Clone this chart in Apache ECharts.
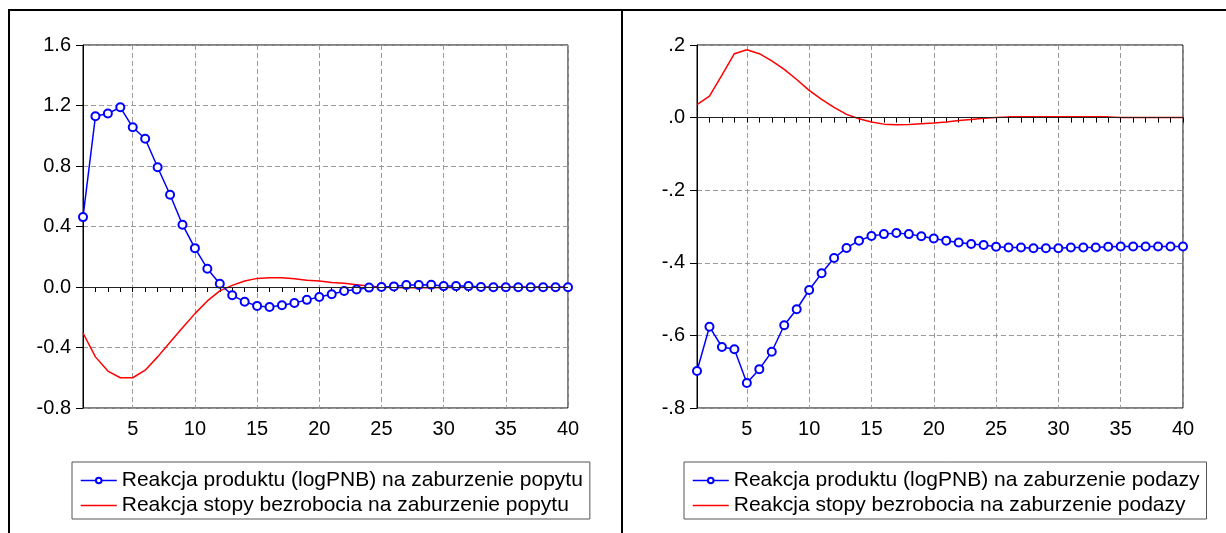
<!DOCTYPE html>
<html><head><meta charset="utf-8">
<script src="https://cdn.jsdelivr.net/npm/echarts@6/dist/echarts.min.js"></script>
<style>html,body{margin:0;padding:0;background:#fff}#c{width:1226px;height:533px}</style>
</head><body><div id="c"></div>
<script>
const periods = Array.from({length:40},(_,i)=>String(i+1));
const demandOutput = [0.462,1.129,1.147,1.188,1.056,0.98,0.792,0.61,0.412,0.257,0.121,0.022,-0.055,-0.097,-0.125,-0.132,-0.121,-0.106,-0.085,-0.066,-0.048,-0.026,-0.017,-0.004,0.0,0.004,0.013,0.013,0.015,0.006,0.006,0.006,0.0,-0.002,-0.002,-0.002,-0.002,-0.002,-0.002,-0.002];
const demandUnemp = [-0.304,-0.462,-0.556,-0.600,-0.600,-0.55,-0.462,-0.365,-0.27,-0.176,-0.092,-0.026,0.011,0.04,0.057,0.061,0.061,0.055,0.045,0.04,0.03,0.024,0.015,0.006,-0.002,-0.004,-0.005,-0.005,-0.005,-0.004,-0.003,-0.002,-0.001,0,0,0,0,0,0,0];
const supplyOutput = [-0.698,-0.576,-0.632,-0.638,-0.731,-0.693,-0.645,-0.572,-0.528,-0.475,-0.429,-0.387,-0.359,-0.339,-0.326,-0.321,-0.318,-0.321,-0.327,-0.333,-0.339,-0.344,-0.348,-0.351,-0.356,-0.358,-0.358,-0.36,-0.36,-0.36,-0.358,-0.358,-0.358,-0.356,-0.355,-0.355,-0.355,-0.355,-0.355,-0.355];
const supplyUnemp = [0.036,0.059,0.117,0.176,0.187,0.176,0.156,0.133,0.105,0.075,0.05,0.028,0.009,-0.003,-0.012,-0.018,-0.02,-0.019,-0.017,-0.015,-0.012,-0.008,-0.005,-0.002,0.0,0.002,0.002,0.002,0.002,0.002,0.002,0.002,0.002,0.002,0.0,0.0,0.0,0.0,0.0,0.0];
const names = {
  dOut: 'Reakcja produktu (logPNB) na zaburzenie popytu',
  dUn: 'Reakcja stopy bezrobocia na zaburzenie popytu',
  sOut: 'Reakcja produktu (logPNB) na zaburzenie podazy',
  sUn: 'Reakcja stopy bezrobocia na zaburzenie podazy'
};
const FONT = 'Liberation Sans, Arial, sans-serif';
const TFS = 20;
const LFS = 21;
const every5 = (i, v) => Number(v) % 5 === 0;
function xAxis(gi){
  return {type:'category', gridIndex:gi, data:periods, boundaryGap:false,
    axisLine:{lineStyle:{color:'#000',width:1}},
    axisTick:{show:true, interval:0, length:5, lineStyle:{color:'#000'}},
    axisLabel:{interval:every5, color:'#000', fontSize:TFS, fontFamily:FONT, margin:11},
    splitLine:{show:true, interval:every5, lineStyle:{color:'#9a9a9a', type:[5,3], width:1}}};
}
function yAxis(gi, min, max, step, fmt){
  return {type:'value', gridIndex:gi, min:min, max:max, interval:step,
    axisLine:{show:true, lineStyle:{color:'#000',width:1}},
    axisTick:{show:true, length:7, lineStyle:{color:'#000'}},
    axisLabel:{color:'#000', fontSize:TFS, fontFamily:FONT, margin:12, formatter:fmt},
    splitLine:{show:true, lineStyle:{color:'#9a9a9a', type:[5,3], width:1}}};
}
const fmtL = v => (Math.abs(v)<1e-9?0:v).toFixed(1);
const fmtR = v => (Math.abs(v)<1e-9?0:v).toFixed(1).replace(/^(-?)0\./,'$1.');
const zeroLine = {silent:true, symbol:'none', label:{show:false}, lineStyle:{color:'#222', type:'solid', width:1.2}, data:[{yAxis:0}]};
function outSeries(name, data, gi){
  return {name, type:'line', xAxisIndex:gi, yAxisIndex:gi, data,
    symbol:'emptyCircle', symbolSize:8, showAllSymbol:true,
    lineStyle:{color:'#0000ff', width:1.5}, itemStyle:{color:'#0000ff', borderWidth:1.5},
    animation:false, z:3};
}
function unSeries(name, data, gi){
  return {name, type:'line', xAxisIndex:gi, yAxisIndex:gi, data, symbol:'none',
    lineStyle:{color:'#ff0000', width:1.5}, itemStyle:{color:'#ff0000'},
    markLine:zeroLine, animation:false, z:2};
}
function legend(left, outName, unName){
  return {left:left, top:462, orient:'vertical',
    data:[{name:outName}, {name:unName, itemStyle:{opacity:0}}],
    borderColor:'#555', borderWidth:1, padding:[8,7,3,8], itemGap:4,
    itemWidth:36, itemHeight:7, itemTextGap:8,
    lineStyle:{width:1.5},
    textStyle:{color:'#000', fontSize:LFS, fontFamily:FONT, lineHeight:21}};
}
const chart = echarts.init(document.getElementById('c'), null, {renderer:'canvas'});
chart.setOption({
  animation:false,
  backgroundColor:'#fff',
  grid:[
    {left:83, top:45, width:485, height:363, show:true, borderColor:'#000', borderWidth:1},
    {left:697, top:45, width:486, height:363, show:true, borderColor:'#000', borderWidth:1}
  ],
  xAxis:[xAxis(0), xAxis(1)],
  yAxis:[yAxis(0,-0.8,1.6,0.4,fmtL), yAxis(1,-0.8,0.2,0.2,fmtR)],
  legend:[legend(72,names.dOut,names.dUn), legend(684,names.sOut,names.sUn)],
  series:[
    unSeries(names.dUn, demandUnemp, 0),
    outSeries(names.dOut, demandOutput, 0),
    unSeries(names.sUn, supplyUnemp, 1),
    outSeries(names.sOut, supplyOutput, 1)
  ],
  graphic:[
    {type:'line', shape:{x1:8,y1:10,x2:1226,y2:10}, style:{stroke:'#000', lineWidth:2}},
    {type:'line', shape:{x1:9,y1:10,x2:9,y2:533}, style:{stroke:'#000', lineWidth:2}},
    {type:'line', shape:{x1:622,y1:10,x2:622,y2:533}, style:{stroke:'#000', lineWidth:2}}
  ]
});
</script></body></html>
